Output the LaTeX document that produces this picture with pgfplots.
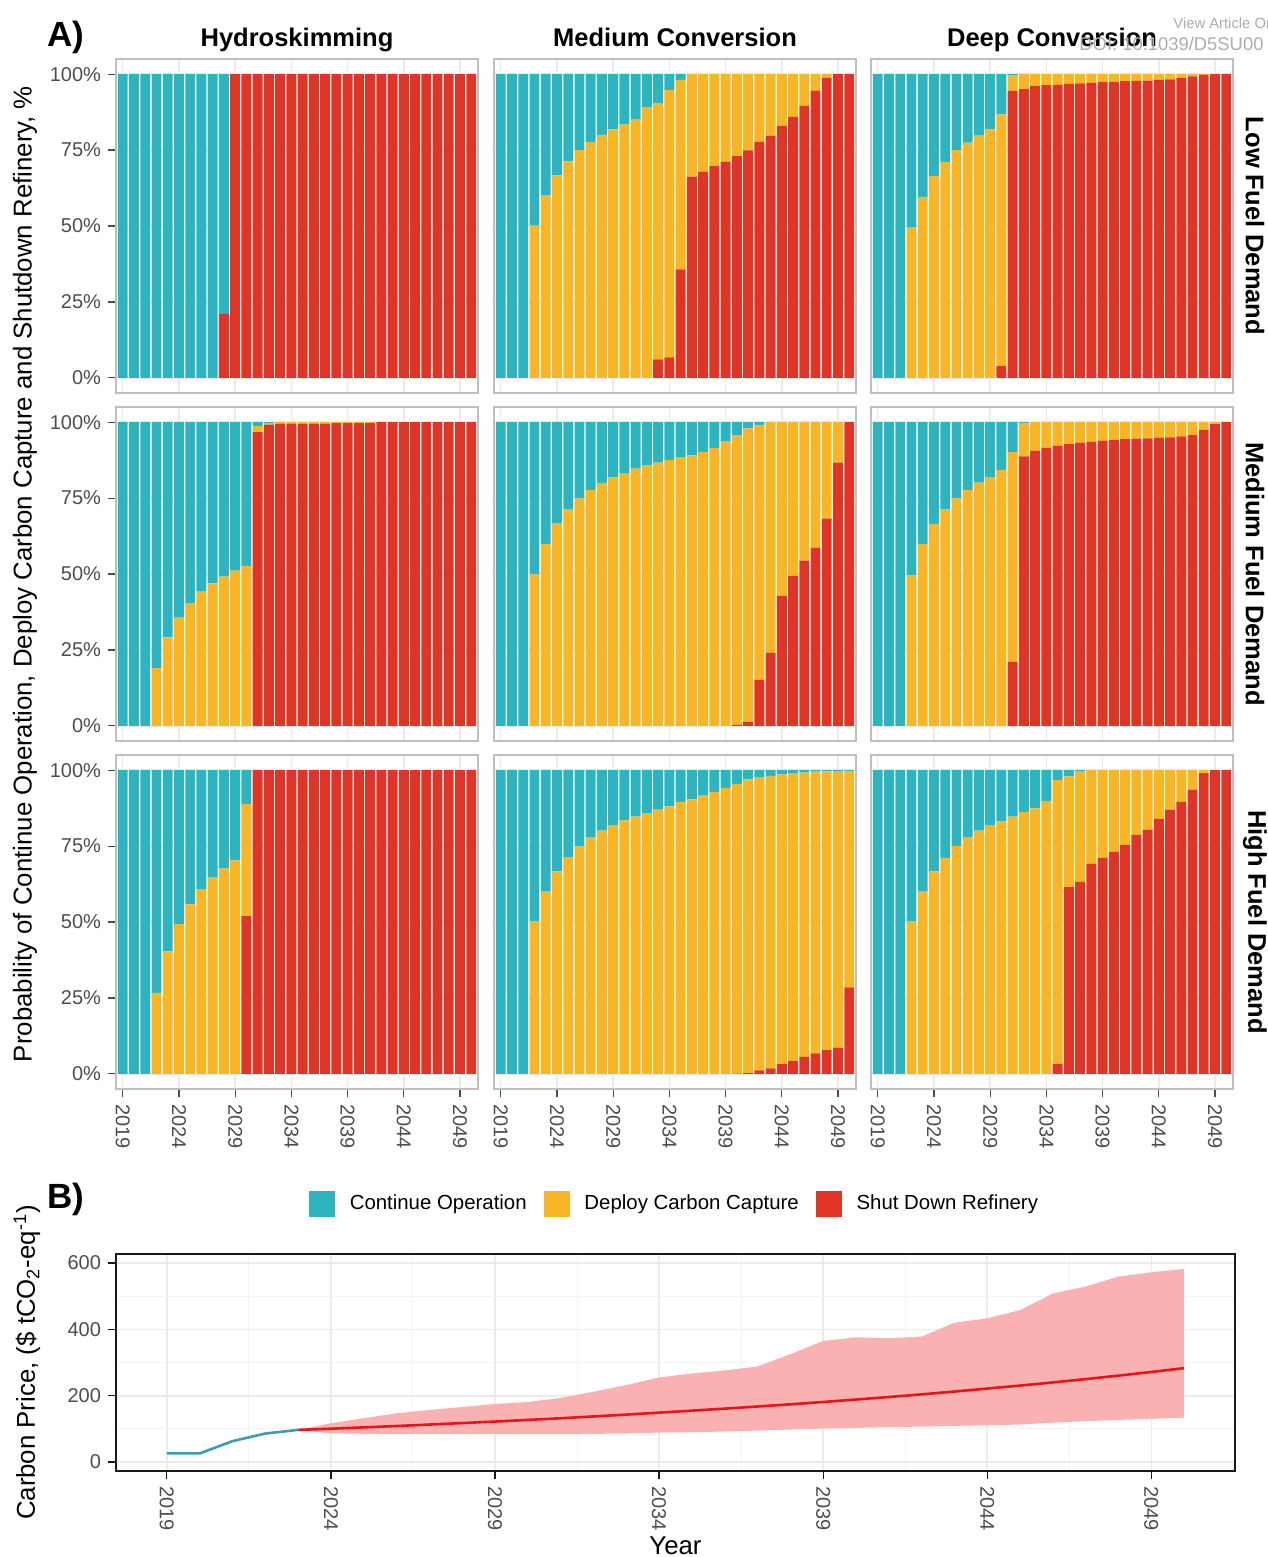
\documentclass[border=0pt]{standalone}
\usepackage{fontspec}
\setmainfont{Liberation Sans}
\usepackage{pgfplots}
\pgfplotsset{compat=1.18}
\usepackage{pgfplotstable}

\definecolor{cTeal}{HTML}{2CB4C0}
\definecolor{cYel}{HTML}{F8B526}
\definecolor{cRed}{HTML}{E03526}
\definecolor{cBand}{HTML}{F9B1B1}
\definecolor{cLine}{HTML}{E8141B}
\definecolor{cHist}{HTML}{3A9DB2}
\definecolor{cTick}{HTML}{4D4D4D}
\definecolor{cGrid}{HTML}{EBEBEB}

% columns: yr, sd = Shut Down Refinery, cc = Deploy Carbon Capture, co = Continue Operation
\pgfplotstableread{
yr sd cc co
2019 0 0 100
2020 0 0 100
2021 0 0 100
2022 0 0 100
2023 0 0 100
2024 0 0 100
2025 0 0 100
2026 0 0 100
2027 0 0 100
2028 21 0 79
2029 100 0 0
2030 100 0 0
2031 100 0 0
2032 100 0 0
2033 100 0 0
2034 100 0 0
2035 100 0 0
2036 100 0 0
2037 100 0 0
2038 100 0 0
2039 100 0 0
2040 100 0 0
2041 100 0 0
2042 100 0 0
2043 100 0 0
2044 100 0 0
2045 100 0 0
2046 100 0 0
2047 100 0 0
2048 100 0 0
2049 100 0 0
2050 100 0 0
}\tLH

\pgfplotstableread{
yr sd cc co
2019 0 0 100
2020 0 0 100
2021 0 0 100
2022 0 50.1 49.9
2023 0 60.0 40.0
2024 0 66.7 33.3
2025 0 71.3 28.7
2026 0 75.0 25.0
2027 0 77.7 22.3
2028 0 80.0 20.0
2029 0 81.8 18.2
2030 0 83.5 16.5
2031 0 85.0 15.0
2032 0 89.2 10.8
2033 6.1 84.4 9.5
2034 6.7 88.1 5.2
2035 35.7 62.4 1.9
2036 66.3 33.7 0
2037 67.9 32.1 0
2038 69.7 30.3 0
2039 71.2 28.8 0
2040 73.0 27.0 0
2041 74.9 25.1 0
2042 77.7 22.3 0
2043 79.8 20.2 0
2044 83.0 17.0 0
2045 85.9 14.1 0
2046 89.6 10.4 0
2047 94.6 5.4 0
2048 98.9 1.1 0
2049 100 0 0
2050 100 0 0
}\tLM

\pgfplotstableread{
yr sd cc co
2019 0 0 100
2020 0 0 100
2021 0 0 100
2022 0 49.5 50.5
2023 0 59.6 40.4
2024 0 66.5 33.5
2025 0 71.1 28.9
2026 0 75.0 25.0
2027 0 77.5 22.5
2028 0 79.8 20.2
2029 0 81.8 18.2
2030 3.9 82.9 13.2
2031 94.5 5.0 0.5
2032 95.1 4.9 0
2033 96.1 3.9 0
2034 96.4 3.6 0
2035 96.5 3.5 0
2036 96.8 3.2 0
2037 97.0 3.0 0
2038 97.1 2.9 0
2039 97.4 2.6 0
2040 97.5 2.5 0
2041 97.7 2.3 0
2042 97.8 2.2 0
2043 97.9 2.1 0
2044 98.1 1.9 0
2045 98.3 1.7 0
2046 98.7 1.3 0
2047 99.3 0.7 0
2048 99.8 0.2 0
2049 100 0 0
2050 100 0 0
}\tLD

\pgfplotstableread{
yr sd cc co
2019 0 0 100
2020 0 0 100
2021 0 0 100
2022 0 19.0 81.0
2023 0 29.1 70.9
2024 0 35.6 64.4
2025 0 40.5 59.5
2026 0 44.2 55.8
2027 0 46.9 53.1
2028 0 49.1 50.9
2029 0 51.1 48.9
2030 0 52.7 47.3
2031 96.7 2.0 1.3
2032 99.2 0.6 0.2
2033 99.5 0.5 0
2034 99.5 0.5 0
2035 99.5 0.5 0
2036 99.5 0.5 0
2037 99.5 0.5 0
2038 99.7 0.3 0
2039 99.7 0.3 0
2040 99.7 0.3 0
2041 99.7 0.3 0
2042 100 0 0
2043 100 0 0
2044 100 0 0
2045 100 0 0
2046 100 0 0
2047 100 0 0
2048 100 0 0
2049 100 0 0
2050 100 0 0
}\tMH

\pgfplotstableread{
yr sd cc co
2019 0 0 100
2020 0 0 100
2021 0 0 100
2022 0 49.9 50.1
2023 0 59.8 40.2
2024 0 66.6 33.4
2025 0 71.4 28.6
2026 0 74.9 25.1
2027 0 77.6 22.4
2028 0 80.0 20.0
2029 0 81.8 18.2
2030 0 83.1 16.9
2031 0 84.7 15.3
2032 0 85.8 14.2
2033 0 86.7 13.3
2034 0 87.6 12.4
2035 0 88.3 11.7
2036 0 89.1 10.9
2037 0 90.1 9.9
2038 0 91.5 8.5
2039 0 93.6 6.4
2040 0.3 95.3 4.4
2041 1.3 96.7 2.0
2042 15.2 83.9 0.9
2043 24.0 76.0 0
2044 42.8 57.2 0
2045 49.4 50.6 0
2046 54.4 45.6 0
2047 58.7 41.3 0
2048 68.2 31.8 0
2049 86.7 13.3 0
2050 100 0 0
}\tMM

\pgfplotstableread{
yr sd cc co
2019 0 0 100
2020 0 0 100
2021 0 0 100
2022 0 49.7 50.3
2023 0 59.9 40.1
2024 0 66.5 33.5
2025 0 71.4 28.6
2026 0 74.9 25.1
2027 0 77.6 22.4
2028 0 80.1 19.9
2029 0 81.9 18.1
2030 0 84.3 15.7
2031 21.1 69.0 9.9
2032 88.7 11.1 0.2
2033 90.6 9.4 0
2034 91.5 8.5 0
2035 92.3 7.7 0
2036 92.8 7.2 0
2037 93.3 6.7 0
2038 93.6 6.4 0
2039 93.9 6.1 0
2040 94.2 5.8 0
2041 94.4 5.6 0
2042 94.6 5.4 0
2043 94.7 5.3 0
2044 94.8 5.2 0
2045 95.0 5.0 0
2046 95.3 4.7 0
2047 95.7 4.3 0
2048 97.5 2.5 0
2049 99.4 0.6 0
2050 100 0 0
}\tMD

\pgfplotstableread{
yr sd cc co
2019 0 0 100
2020 0 0 100
2021 0 0 100
2022 0 26.7 73.3
2023 0 40.3 59.7
2024 0 49.3 50.7
2025 0 55.8 44.2
2026 0 60.8 39.2
2027 0 64.6 35.4
2028 0 67.7 32.3
2029 0 70.3 29.7
2030 51.9 36.9 11.2
2031 100 0 0
2032 100 0 0
2033 100 0 0
2034 100 0 0
2035 100 0 0
2036 100 0 0
2037 100 0 0
2038 100 0 0
2039 100 0 0
2040 100 0 0
2041 100 0 0
2042 100 0 0
2043 100 0 0
2044 100 0 0
2045 100 0 0
2046 100 0 0
2047 100 0 0
2048 100 0 0
2049 100 0 0
2050 100 0 0
}\tHH

\pgfplotstableread{
yr sd cc co
2019 0 0 100
2020 0 0 100
2021 0 0 100
2022 0 50.2 49.8
2023 0 60.0 40.0
2024 0 66.7 33.3
2025 0 71.4 28.6
2026 0 74.9 25.1
2027 0 77.8 22.2
2028 0 80.1 19.9
2029 0 81.9 18.1
2030 0 83.5 16.5
2031 0 84.7 15.3
2032 0 85.9 14.1
2033 0 87.0 13.0
2034 0 88.1 11.9
2035 0 89.6 10.4
2036 0 90.4 9.6
2037 0 91.6 8.4
2038 0 92.9 7.1
2039 0 94.2 5.8
2040 0.1 95.3 4.6
2041 0.2 96.8 3.0
2042 1.1 96.6 2.3
2043 1.8 96.3 1.9
2044 3.2 95.4 1.4
2045 4.2 94.8 1.0
2046 5.6 93.6 0.8
2047 6.7 92.8 0.5
2048 7.8 91.8 0.4
2049 8.6 91.1 0.3
2050 28.5 71.1 0.4
}\tHM

\pgfplotstableread{
yr sd cc co
2019 0 0 100
2020 0 0 100
2021 0 0 100
2022 0 50.2 49.8
2023 0 60.0 40.0
2024 0 66.7 33.3
2025 0 71.1 28.9
2026 0 75.1 24.9
2027 0 77.8 22.2
2028 0 80.1 19.9
2029 0 81.9 18.1
2030 0 83.3 16.7
2031 0 84.7 15.3
2032 0 86.3 13.7
2033 0 87.4 12.6
2034 0 89.9 10.1
2035 3.3 93.4 3.3
2036 61.5 36.5 2.0
2037 63.2 36.3 0.5
2038 69.2 30.8 0
2039 71.2 28.8 0
2040 73.2 26.8 0
2041 75.3 24.7 0
2042 78.6 21.4 0
2043 80.4 19.6 0
2044 84.0 16.0 0
2045 87.0 13.0 0
2046 89.6 10.4 0
2047 93.6 6.4 0
2048 99.0 1.0 0
2049 100 0 0
2050 100 0 0
}\tHD

\pgfplotsset{
  /pgf/number format/1000 sep={},
  /pgf/number format/assume math mode=true,
  bpanel/.style={
    scale only axis, width=181pt, height=167pt, anchor=south west,
    xmin=2018.4, xmax=2050.6, ymin=-5, ymax=105,
    ybar stacked, bar width=0.88,
    xtick={2019,2024,...,2049}, ytick={0,25,50,75,100},
    xtick pos=bottom, ytick pos=left,
    xmajorgrids, ymajorgrids, major grid style={draw=cGrid, line width=0.7pt},
    axis line style={draw=gray!50, line width=0.6pt},
    tick align=outside,
    tick label style={text=cTick, font=\fontsize{10}{12}\selectfont},
    label style={font=\fontsize{12.9}{15}\selectfont},
    title style={font=\fontsize{12.75}{15}\selectfont\bfseries, at={(axis description cs:0.5,1.0)}, anchor=base},
  },
  ylab/.style={yticklabel={\pgfmathprintnumber{\tick}\%}, ytick style={draw=gray!60!black, line width=0.6pt}, major tick length=4pt},
  noylab/.style={yticklabels={}, ytick style={draw=none}},
  xlab/.style={xticklabel style={rotate=-90, anchor=west}, xtick style={draw=gray!60!black, line width=0.6pt}, major tick length=4pt},
  noxlab/.style={xticklabels={}, xtick style={draw=none}},
  noticks/.style={major tick length=0pt},
  rstrip/.style={extra description/.code={\node[rotate=-90, font=\fontsize{12.75}{15}\selectfont\bfseries] at (1.0608,0.5) {#1};}},
}

\newcommand{\barpanelplot}[3]{%
  \begin{axis}[bpanel, at={#2}, #3]
    \addplot[fill=cRed, draw=none] table[x=yr, y=sd] {#1};
    \addplot[fill=cYel, draw=none] table[x=yr, y=cc] {#1};
    \addplot[fill=cTeal, draw=none] table[x=yr, y=co] {#1};
  \end{axis}}

\begin{document}
\begin{tikzpicture}
% Row 1: Low Fuel Demand
\barpanelplot{\tLH}{(58pt,-196.5pt)}{title={Hydroskimming}, ylab, noxlab}
\barpanelplot{\tLM}{(247pt,-196.5pt)}{title={Medium Conversion}, noylab, noxlab, noticks}
\barpanelplot{\tLD}{(435.5pt,-196.5pt)}{title={Deep Conversion}, noylab, noxlab, noticks, rstrip={Low Fuel Demand}}
% Row 2: Medium Fuel Demand
\barpanelplot{\tMH}{(58pt,-370.5pt)}{ylab, noxlab,
  ylabel={Probability of Continue Operation, Deploy Carbon Capture and Shutdown Refinery, \%},
  ylabel style={at={(axis description cs:-0.2514,0.5)}, anchor=center}}
\barpanelplot{\tMM}{(247pt,-370.5pt)}{noylab, noxlab, noticks}
\barpanelplot{\tMD}{(435.5pt,-370.5pt)}{noylab, noxlab, noticks, rstrip={Medium Fuel Demand}}
% Row 3: High Fuel Demand
\barpanelplot{\tHH}{(58pt,-544.5pt)}{ylab, xlab}
\barpanelplot{\tHM}{(247pt,-544.5pt)}{noylab, xlab}
\barpanelplot{\tHD}{(435.5pt,-544.5pt)}{noylab, xlab, rstrip={High Fuel Demand}}

% Panel B
\begin{axis}[scale only axis, width=559.5pt, height=108.5pt, at={(58pt,-735.5pt)}, anchor=south west,
  xmin=2017.45, xmax=2051.55, ymin=-27, ymax=627,
  xtick={2019,2024,...,2049}, minor xtick={2021.5,2026.5,...,2046.5},
  ytick={0,200,400,600}, minor ytick={100,300,500},
  xtick pos=bottom, ytick pos=left,
  xmajorgrids, ymajorgrids, xminorgrids, yminorgrids,
  major grid style={draw=cGrid, line width=0.8pt},
  minor grid style={draw=cGrid!60, line width=0.5pt},
  axis line style={draw=gray!20!black, line width=0.6pt},
  tick align=outside, major tick length=4pt, minor tick length=0pt,
  tick style={draw=gray!20!black, line width=0.6pt},
  tick label style={text=cTick, font=\fontsize{10}{12}\selectfont},
  label style={font=\fontsize{12.9}{15}\selectfont},
  xticklabel style={rotate=-90, anchor=west},
  xlabel={Year}, xlabel style={at={(axis description cs:0.5,-0.343)}, anchor=center},
  ylabel={Carbon Price, (\$ tCO\textsubscript{2}-eq\textsuperscript{-1})},
  ylabel style={at={(axis description cs:-0.0795,0.5)}, anchor=center},
  legend columns=3,
  legend style={at={(axis description cs:0.5,1.232)}, anchor=center, draw=none, fill=none,
    font=\fontsize{10.2}{12}\selectfont,
    /tikz/every odd column/.append style={column sep=5.5pt},
    /tikz/every even column/.append style={column sep=6.5pt}},
]
\addlegendimage{legend image code/.code={\fill[cTeal] (0pt,-6.25pt) rectangle (12.5pt,6.25pt);}}
\addlegendentry{Continue Operation}
\addlegendimage{legend image code/.code={\fill[cYel] (0pt,-6.25pt) rectangle (12.5pt,6.25pt);}}
\addlegendentry{Deploy Carbon Capture}
\addlegendimage{legend image code/.code={\fill[cRed] (0pt,-6.25pt) rectangle (12.5pt,6.25pt);}}
\addlegendentry{Shut Down Refinery}

\addplot[draw=none, fill=cBand] coordinates {
(2023,97) (2024,117) (2025,132) (2026,147) (2027,157) (2028,166) (2029,175) (2030,181)
(2031,193) (2032,212) (2033,232) (2034,255) (2035,267) (2036,276) (2037,288) (2038,325)
(2039,365) (2040,376) (2041,373) (2042,378) (2043,420) (2044,433) (2045,458) (2046,508)
(2047,529) (2048,559) (2049,572) (2050,582)
(2050,134) (2049,130) (2048,127) (2047,123) (2046,119) (2045,113) (2044,111) (2043,109)
(2042,107) (2041,105) (2040,103) (2039,101) (2038,98) (2037,95) (2036,92) (2035,90)
(2034,89) (2033,86) (2032,85) (2031,84) (2030,84) (2029,84) (2028,84) (2027,84)
(2026,84) (2025,85) (2024,87) (2023,97)
};
\addplot[cLine, line width=1.3pt] coordinates {
(2023,97) (2024,100.5) (2025,104.5) (2026,108.7) (2027,113) (2028,117.5) (2029,122) (2030,127)
(2031,132) (2032,137.5) (2033,143) (2034,149) (2035,155) (2036,161) (2037,167.5) (2038,174)
(2039,181) (2040,188.5) (2041,196) (2042,204) (2043,212.5) (2044,221.5) (2045,230.5) (2046,240)
(2047,250) (2048,260.5) (2049,271.5) (2050,283)
};
\addplot[cHist, line width=1.3pt] coordinates {
(2019,26) (2020,26) (2021,63) (2022,86) (2023,97)
};
\end{axis}

\node[anchor=base west, font=\fontsize{17.5}{20}\selectfont\bfseries] at (20pt,-23.5pt) {A)};
\node[anchor=base west, font=\fontsize{17.5}{20}\selectfont\bfseries] at (20pt,-604pt) {B)};
\node[anchor=base west, inner sep=0pt, font=\fontsize{7.4}{8.5}\selectfont, text=gray!65] at (586.5pt,-14.5pt) {View Article Online};
\node[anchor=base west, inner sep=0pt, font=\fontsize{9.2}{11}\selectfont, text=gray!65] at (539.5pt,-25.5pt) {DOI: 10.1039/D5SU00};

\pgfresetboundingbox
\path[use as bounding box] (0,0) rectangle (634pt,-778.5pt);
\end{tikzpicture}
\end{document}
